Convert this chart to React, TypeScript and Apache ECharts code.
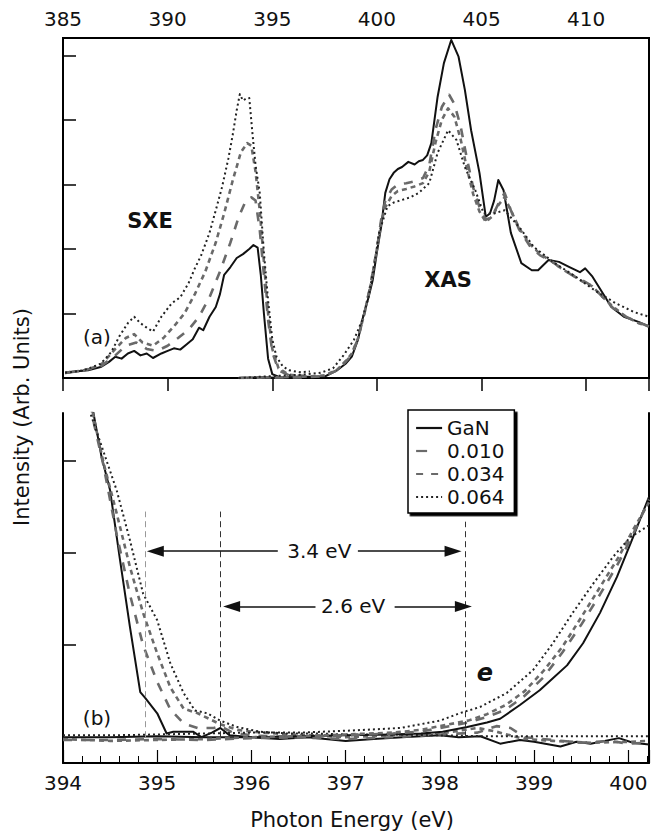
import React, { useEffect, useRef } from "react";
import * as echarts from "echarts";

// ---------- data (photon energy in eV, intensity in arb. units) ----------
const legendNames = ["GaN", "0.010", "0.034", "0.064"];
const topTickLabels = [385, 390, 395, 400, 405, 410];
const bottomTickLabels = [394, 395, 396, 397, 398, 399, 400];

// Panel (a): soft x-ray emission (SXE)
const ganSxe = [[385.1,0.08],[385.6,0.1],[386.2,0.12],[386.8,0.17],[387.2,0.25],[387.5,0.33],[387.8,0.3],[388.1,0.38],[388.4,0.42],[388.7,0.35],[389.0,0.38],[389.3,0.31],[389.7,0.38],[390.0,0.42],[390.3,0.46],[390.6,0.44],[390.9,0.52],[391.2,0.6],[391.5,0.78],[391.7,0.74],[392.0,0.95],[392.3,1.1],[392.5,1.3],[392.7,1.6],[393.0,1.72],[393.3,1.86],[393.6,1.92],[393.9,2.0],[394.1,2.06],[394.3,2.02],[394.45,1.6],[394.6,1.0],[394.8,0.3],[395.0,0.06],[395.3,0.02],[396.0,0.01],[396.6,0.02]];
const x010Sxe = [[385.1,0.08],[386.0,0.12],[386.8,0.18],[387.5,0.35],[388.0,0.5],[388.5,0.55],[389.0,0.45],[389.5,0.42],[390.0,0.5],[390.5,0.62],[391.0,0.75],[391.5,0.95],[392.0,1.25],[392.5,1.65],[393.0,2.1],[393.4,2.5],[393.7,2.72],[394.0,2.8],[394.2,2.75],[394.4,2.3],[394.6,1.6],[394.8,0.9],[395.0,0.4],[395.3,0.12],[395.8,0.04],[396.5,0.03]];
const x034Sxe = [[385.1,0.08],[386.0,0.12],[386.8,0.2],[387.5,0.45],[388.0,0.62],[388.4,0.68],[388.8,0.55],[389.3,0.5],[389.8,0.62],[390.3,0.8],[390.8,1.0],[391.3,1.3],[391.8,1.65],[392.3,2.1],[392.7,2.55],[393.1,3.05],[393.5,3.5],[393.8,3.64],[394.0,3.6],[394.2,3.2],[394.4,2.6],[394.6,1.8],[394.8,1.0],[395.0,0.45],[395.3,0.15],[395.8,0.05],[396.5,0.03]];
const x064Sxe = [[385.1,0.08],[386.0,0.12],[386.8,0.22],[387.3,0.4],[387.7,0.65],[388.1,0.85],[388.4,0.95],[388.7,0.85],[389.0,0.78],[389.3,0.72],[389.7,0.95],[390.2,1.16],[390.6,1.25],[391.0,1.47],[391.3,1.7],[391.6,1.9],[392.0,2.25],[392.3,2.6],[392.6,2.96],[392.9,3.4],[393.1,3.75],[393.3,4.15],[393.45,4.4],[393.6,4.3],[393.75,4.33],[393.9,4.34],[394.05,3.8],[394.2,3.3],[394.4,2.87],[394.6,1.94],[394.8,1.2],[395.0,0.6],[395.2,0.33],[395.5,0.18],[395.8,0.12],[396.3,0.09],[396.8,0.1]];

// Panel (a): x-ray absorption (XAS)
const ganXas = [[393.4,0.0],[394.5,0.01],[395.5,0.0],[396.5,0.02],[397.5,0.02],[398.1,0.12],[398.5,0.22],[398.8,0.33],[399.1,0.6],[399.3,0.9],[399.6,1.25],[399.8,1.52],[400.0,1.95],[400.2,2.34],[400.4,2.87],[400.6,3.08],[400.8,3.18],[401.0,3.24],[401.2,3.27],[401.5,3.35],[401.8,3.31],[402.0,3.36],[402.2,3.38],[402.4,3.45],[402.6,3.64],[402.9,4.36],[403.2,4.88],[403.55,5.24],[403.9,4.98],[404.2,4.47],[404.5,3.84],[404.9,3.18],[405.2,2.5],[405.4,2.55],[405.6,2.75],[405.8,3.07],[406.05,2.91],[406.4,2.25],[406.9,1.78],[407.4,1.67],[407.7,1.67],[408.2,1.83],[408.7,1.8],[409.2,1.72],[409.7,1.64],[409.95,1.7],[410.3,1.57],[410.8,1.31],[411.2,1.1],[411.8,0.95],[412.5,0.87],[413.0,0.8]];
const x010Xas = [[393.4,0.0],[395.0,0.01],[396.5,0.01],[397.5,0.03],[398.1,0.12],[398.5,0.25],[398.8,0.36],[399.1,0.62],[399.4,1.0],[399.7,1.45],[400.0,2.0],[400.2,2.45],[400.4,2.75],[400.7,2.92],[401.0,3.0],[401.4,3.02],[401.8,3.05],[402.2,3.1],[402.5,3.3],[402.8,3.85],[403.1,4.2],[403.45,4.39],[403.7,4.25],[404.0,3.9],[404.3,3.4],[404.6,2.95],[404.9,2.65],[405.2,2.45],[405.5,2.5],[405.8,2.7],[406.1,2.87],[406.4,2.6],[406.8,2.3],[407.3,2.05],[407.8,1.9],[408.3,1.82],[408.8,1.7],[409.3,1.6],[409.8,1.52],[410.3,1.42],[410.8,1.25],[411.3,1.08],[411.9,0.95],[412.5,0.86],[413.0,0.8]];
const x034Xas = [[393.4,0.0],[395.0,0.01],[396.5,0.02],[397.5,0.04],[398.1,0.13],[398.5,0.26],[398.8,0.38],[399.1,0.62],[399.4,1.0],[399.7,1.45],[400.0,2.0],[400.2,2.4],[400.4,2.65],[400.7,2.82],[401.0,2.9],[401.4,2.93],[401.8,2.97],[402.2,3.02],[402.5,3.2],[402.8,3.65],[403.1,4.0],[403.4,4.18],[403.7,4.05],[404.0,3.7],[404.3,3.25],[404.6,2.85],[404.9,2.58],[405.2,2.42],[405.5,2.5],[405.8,2.68],[406.1,2.8],[406.4,2.6],[406.8,2.32],[407.3,2.08],[407.8,1.92],[408.3,1.82],[408.8,1.7],[409.3,1.6],[409.8,1.5],[410.3,1.42],[410.8,1.25],[411.3,1.1],[411.9,0.95],[412.5,0.85],[413.0,0.8]];
const x064Xas = [[393.4,0.0],[395.0,0.03],[396.4,0.05],[397.3,0.08],[397.9,0.15],[398.4,0.35],[398.9,0.59],[399.3,0.9],[399.6,1.26],[399.9,1.8],[400.1,2.25],[400.5,2.66],[400.8,2.72],[401.2,2.76],[401.6,2.8],[402.0,2.87],[402.5,3.02],[402.9,3.49],[403.4,3.84],[403.8,3.69],[404.2,3.27],[404.7,2.91],[405.1,2.55],[405.6,2.55],[406.1,2.6],[406.8,2.34],[407.5,2.03],[408.5,1.78],[409.5,1.57],[410.4,1.36],[411.4,1.16],[412.3,1.02],[413.0,0.95]];

// Panel (b): band-edge region, emission
const ganEmB = [[394.2,4.2],[394.41,3.04],[394.5,2.68],[394.6,1.96],[394.71,1.2],[394.82,0.49],[394.87,0.43],[395.0,0.26],[395.1,0.04],[395.17,0.06],[395.38,0.06],[395.47,0.0],[395.58,0.05],[395.67,0.1],[395.77,0.02],[396.0,0.0],[396.3,-0.02],[396.6,0.0],[397.0,-0.04],[397.3,-0.02],[397.6,0.0],[398.0,0.02],[398.2,0.0],[398.43,0.01],[398.64,-0.07],[398.85,-0.03],[399.0,-0.05],[399.28,-0.1],[399.45,-0.05],[399.6,-0.07],[399.9,-0.01],[400.05,-0.06],[400.22,-0.08]];
const x010EmB = [[394.2,4.2],[394.33,3.4],[394.43,2.95],[394.57,2.2],[394.71,1.55],[394.85,1.0],[395.0,0.6],[395.14,0.3],[395.28,0.15],[395.43,0.1],[395.6,0.1],[395.67,0.12],[395.8,0.05],[396.0,0.02],[396.4,0.0],[397.0,-0.02],[397.5,0.0],[398.0,0.03],[398.4,0.05],[398.6,0.12],[398.75,0.1],[398.9,0.0],[399.2,-0.03],[399.5,-0.06],[399.8,-0.04],[400.0,-0.07],[400.22,-0.06]];
const x034EmB = [[394.2,4.2],[394.33,3.45],[394.43,2.98],[394.57,2.43],[394.71,1.85],[394.85,1.35],[395.0,0.91],[395.14,0.54],[395.28,0.31],[395.43,0.26],[395.55,0.2],[395.67,0.14],[395.85,0.08],[396.0,0.06],[396.4,0.03],[397.0,0.0],[397.5,0.02],[398.0,0.04],[398.4,0.1],[398.6,0.06],[398.9,-0.02],[399.2,-0.04],[399.6,-0.06],[400.0,-0.05],[400.22,-0.04]];
const x064EmB = [[394.2,4.2],[394.29,3.52],[394.47,2.98],[394.57,2.68],[394.71,2.14],[394.85,1.56],[395.0,1.27],[395.14,0.8],[395.28,0.48],[395.4,0.29],[395.53,0.26],[395.67,0.18],[395.85,0.11],[396.09,0.06],[396.38,0.04],[396.7,0.04],[397.0,0.03],[397.5,0.03],[398.0,0.02],[398.5,0.01],[399.0,0.01],[399.5,0.01],[400.22,0.01]];

// Panel (b): band-edge region, absorption
const ganAbB = [[394.0,0.0],[394.5,0.0],[395.0,0.01],[395.5,0.0],[396.0,0.0],[396.5,0.01],[397.0,0.02],[397.5,0.03],[397.8,0.04],[398.03,0.06],[398.29,0.11],[398.5,0.16],[398.64,0.2],[398.85,0.35],[399.06,0.51],[399.2,0.64],[399.35,0.78],[399.52,1.02],[399.7,1.35],[399.88,1.74],[400.05,2.17],[400.22,2.61]];
const x010AbB = [[394.0,-0.03],[394.5,-0.03],[395.0,-0.02],[395.5,-0.03],[396.0,-0.01],[396.5,0.0],[397.0,0.02],[397.5,0.04],[397.8,0.06],[398.0,0.1],[398.3,0.16],[398.5,0.22],[398.7,0.3],[398.9,0.45],[399.1,0.65],[399.3,0.92],[399.5,1.22],[399.7,1.55],[399.9,1.9],[400.05,2.2],[400.22,2.58]];
const x034AbB = [[394.0,-0.02],[394.5,-0.04],[395.0,-0.03],[395.5,-0.02],[396.0,0.0],[396.5,0.01],[397.0,0.03],[397.5,0.05],[397.8,0.08],[398.0,0.12],[398.3,0.18],[398.5,0.25],[398.7,0.35],[398.9,0.5],[399.1,0.72],[399.3,0.98],[399.5,1.3],[399.7,1.63],[399.9,1.96],[400.05,2.25],[400.22,2.55]];
const x064AbB = [[394.0,0.02],[394.5,0.02],[395.0,0.03],[395.5,0.04],[396.0,0.05],[396.52,0.05],[397.0,0.07],[397.58,0.1],[398.0,0.18],[398.21,0.26],[398.43,0.33],[398.71,0.48],[398.99,0.73],[399.2,1.02],[399.41,1.35],[399.63,1.67],[399.84,1.96],[400.02,2.17],[400.22,2.3]];

// Annotations in panel (b) (data coordinates)
const gapLinesX = [394.87, 395.67, 398.27];
const gapLinesTop = [2.45, 2.45, 2.34];
const arrow34 = { y: 2.02, leftTip: 394.98, leftEnd: 396.28, rightStart: 397.13, rightTip: 398.14, textX: 396.72, label: "3.4 eV" };
const arrow26 = { y: 1.42, leftTip: 395.79, leftEnd: 396.68, rightStart: 397.52, rightTip: 398.25, textX: 397.08, label: "2.6 eV" };

const FONT = "DejaVu Sans";

const styles: Record<string, any> = {
  GaN: { color: "#111", width: 2, type: "solid", legendType: "solid" },
  "0.010": { color: "#6a6a6a", width: 2.6, type: [9, 9], legendType: [11, 16] },
  "0.034": { color: "#6a6a6a", width: 2.6, type: [5, 4], legendType: [7, 8] },
  "0.064": { color: "#222", width: 2, type: [2, 3], legendType: [2, 3] },
};

function mk(name: string, data: number[][], idx: number) {
  const s = styles[name];
  return {
    type: "line",
    name,
    data,
    xAxisIndex: idx,
    yAxisIndex: idx,
    symbol: "none",
    showSymbol: false,
    clip: true,
    lineStyle: { color: s.color, width: s.width, type: s.type, cap: "butt", join: "round" },
    itemStyle: { color: s.color },
    z: 2,
  };
}

function arrowLines(a: any) {
  const ls = { color: "#111", width: 1.5, type: "solid" };
  return [
    [
      { coord: [a.leftEnd, a.y], symbol: "none", lineStyle: ls },
      { coord: [a.leftTip, a.y], symbol: "triangle", symbolSize: [11, 17] },
    ],
    [
      { coord: [a.rightStart, a.y], symbol: "none", lineStyle: ls },
      { coord: [a.rightTip, a.y], symbol: "triangle", symbolSize: [11, 17] },
    ],
  ];
}

export default function App() {
  const ref = useRef<HTMLDivElement>(null);
  useEffect(() => {
    if (!ref.current) return;
    const chart = echarts.init(ref.current, null, { renderer: "svg" });

    const series: any[] = [
      mk("GaN", ganSxe, 0), mk("0.010", x010Sxe, 0), mk("0.034", x034Sxe, 0), mk("0.064", x064Sxe, 0),
      mk("GaN", ganXas, 0), mk("0.010", x010Xas, 0), mk("0.034", x034Xas, 0), mk("0.064", x064Xas, 0),
      mk("GaN", ganEmB, 1), mk("0.010", x010EmB, 1), mk("0.034", x034EmB, 1), mk("0.064", x064EmB, 1),
      mk("GaN", ganAbB, 1), mk("0.010", x010AbB, 1), mk("0.034", x034AbB, 1), mk("0.064", x064AbB, 1),
    ];

    const vlines = gapLinesX.map((x, i) => [
      { coord: [x, 0], symbol: "none", lineStyle: { color: i === 0 ? "#999" : "#333", width: 1, type: [6, 4] } },
      { coord: [x, gapLinesTop[i]], symbol: "none" },
    ]);

    series.push({
      type: "line",
      name: "annotations",
      data: [],
      xAxisIndex: 1,
      yAxisIndex: 1,
      symbol: "none",
      z: 3,
      markLine: {
        silent: true,
        animation: false,
        label: { show: false },
        symbol: ["none", "none"],
        data: [...vlines, ...arrowLines(arrow34), ...arrowLines(arrow26)],
        lineStyle: { color: "#111", width: 1.5 },
        itemStyle: { color: "#111" },
      },
      markPoint: {
        silent: true,
        animation: false,
        symbol: "rect",
        symbolSize: 1,
        itemStyle: { color: "rgba(0,0,0,0)" },
        label: {
          show: true,
          position: "inside",
          formatter: (p: any) => p.name,
          fontSize: 20,
          fontFamily: FONT,
          color: "#111",
        },
        data: [
          { name: arrow34.label, coord: [arrow34.textX, arrow34.y] },
          { name: arrow26.label, coord: [arrow26.textX, arrow26.y] },
        ],
      },
    });

    const labelStyle = { fontSize: 20, fontFamily: FONT, color: "#111" };

    chart.setOption({
      animation: false,
      backgroundColor: "#fff",
      grid: [
        { left: 63, top: 38, width: 586, height: 340, show: true, borderColor: "#000", borderWidth: 2, backgroundColor: "transparent" },
        { left: 63, top: 413, width: 586, height: 350 },
      ],
      xAxis: [
        {
          gridIndex: 0, type: "value", position: "top", min: 385, max: 413, interval: 5,
          axisLine: { show: false },
          axisTick: { show: true, inside: true, length: 13, lineStyle: { color: "#000", width: 1.5 } },
          axisLabel: { ...labelStyle, margin: 9, customValues: topTickLabels },
          splitLine: { show: false },
        },
        {
          gridIndex: 1, type: "value", position: "bottom", min: 394, max: 400.22, interval: 1,
          axisLine: { show: true, onZero: false, lineStyle: { color: "#000", width: 2 } },
          axisTick: { show: true, inside: true, length: 13, lineStyle: { color: "#000", width: 1.2 } },
          minorTick: { show: true, splitNumber: 5, length: 7, lineStyle: { color: "#000", width: 1 } },
          axisLabel: { ...labelStyle, margin: 10, customValues: bottomTickLabels },
          splitLine: { show: false },
          minorSplitLine: { show: false },
        },
      ],
      yAxis: [
        {
          gridIndex: 0, type: "value", min: 0, max: 5.27,
          axisLine: { show: false },
          axisTick: { show: true, inside: true, length: 13, customValues: [1, 2, 3, 4, 5], lineStyle: { color: "#000", width: 1.5 } },
          axisLabel: { show: false },
          splitLine: { show: false },
        },
        {
          gridIndex: 1, type: "value", min: -0.28, max: 3.52,
          axisLine: { show: true, onZero: false, lineStyle: { color: "#000", width: 2 } },
          axisTick: { show: true, inside: true, length: 13, customValues: [1, 2, 3], lineStyle: { color: "#000", width: 1.5 } },
          axisLabel: { show: false },
          splitLine: { show: false },
        },
        {
          gridIndex: 1, type: "value", position: "right", min: -0.28, max: 3.52,
          axisLine: { show: true, onZero: false, lineStyle: { color: "#000", width: 2 } },
          axisTick: { show: false },
          axisLabel: { show: false },
          splitLine: { show: false },
        },
      ],
      legend: {
        data: legendNames.map((n) => ({
          name: n,
          lineStyle: { type: styles[n].legendType, width: 2.2 },
        })),
        orient: "vertical",
        left: 408,
        top: 410,
        itemWidth: 26,
        itemHeight: 14,
        itemGap: 3,
        padding: [8, 10, 6, 7],
        selectedMode: false,
        itemStyle: { opacity: 0 },
        textStyle: { fontSize: 20, fontFamily: FONT, color: "#111", lineHeight: 20 },
        borderColor: "#000",
        borderWidth: 1.5,
        backgroundColor: "#fff",
        shadowColor: "#000",
        shadowBlur: 0,
        shadowOffsetX: 2.5,
        shadowOffsetY: 2.5,
        z: 10,
      },
      graphic: [
        { type: "text", x: 22, y: 417, rotation: Math.PI / 2, style: { text: "Intensity (Arb. Units)", fontSize: 21, fontFamily: FONT, fill: "#111", align: "center", verticalAlign: "middle" } },
        { type: "text", x: 352, y: 820, style: { text: "Photon Energy (eV)", fontSize: 21, fontFamily: FONT, fill: "#111", align: "center", verticalAlign: "middle" } },
        { type: "text", x: 97, y: 337, style: { text: "(a)", fontSize: 20, fontFamily: FONT, fill: "#111", align: "center", verticalAlign: "middle" } },
        { type: "text", x: 97, y: 718, style: { text: "(b)", fontSize: 20, fontFamily: FONT, fill: "#111", align: "center", verticalAlign: "middle" } },
        { type: "text", x: 150, y: 221, style: { text: "SXE", fontSize: 21, fontWeight: "bold", fontFamily: FONT, fill: "#111", align: "center", verticalAlign: "middle" } },
        { type: "text", x: 448, y: 280, style: { text: "XAS", fontSize: 21, fontWeight: "bold", fontFamily: FONT, fill: "#111", align: "center", verticalAlign: "middle" } },
        { type: "text", x: 485, y: 673, style: { text: "e", fontSize: 24, fontStyle: "italic", fontWeight: "bold", fontFamily: FONT, fill: "#111", align: "center", verticalAlign: "middle" } },
      ],
      series,
    });

    return () => chart.dispose();
  }, []);

  return <div ref={ref} style={{ position: "absolute", left: 0, top: 0, width: 662, height: 836 }} />;
}
